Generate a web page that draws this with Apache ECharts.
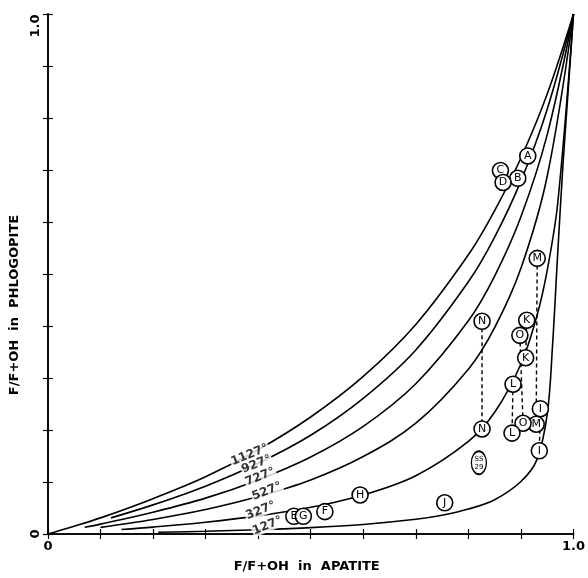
<!DOCTYPE html>
<html>
<head>
<meta charset="utf-8">
<script src="https://cdn.jsdelivr.net/npm/echarts@6/dist/echarts.min.js"></script>
<style>
html,body{margin:0;padding:0;background:#fff;}
#c{width:588px;height:578px;}
</style>
</head>
<body>
<div id="c"></div>
<script>
// ---- data ----
const curve1127 = [[0,0],[0.05,0.015],[0.1,0.031],[0.2,0.068],[0.3,0.110],[0.4,0.162],[0.5,0.225],[0.6,0.303],[0.7,0.403],[0.8,0.537],[0.85,0.622],[0.9,0.723],[0.95,0.846],[1,1]];
const curve927  = [[0.12,0.031],[0.2,0.056],[0.3,0.092],[0.4,0.136],[0.5,0.190],[0.6,0.261],[0.7,0.354],[0.8,0.485],[0.85,0.571],[0.9,0.679],[0.95,0.817],[1,1]];
const curve727  = [[0.07,0.013],[0.1,0.019],[0.2,0.042],[0.3,0.069],[0.4,0.104],[0.5,0.148],[0.6,0.207],[0.7,0.289],[0.8,0.410],[0.85,0.496],[0.9,0.610],[0.95,0.768],[1,1]];
const curve527  = [[0.1,0.0128],[0.2,0.028],[0.3,0.047],[0.4,0.072],[0.5,0.104],[0.6,0.149],[0.7,0.213],[0.8,0.317],[0.85,0.397],[0.9,0.511],[0.95,0.688],[1,1]];
const curve327  = [[0.14,0.0087],[0.2,0.0133],[0.3,0.0226],[0.4,0.0348],[0.5,0.0513],[0.6,0.075],[0.7,0.112],[0.8,0.178],[0.85,0.234],[0.9,0.327],[0.93,0.418],[0.95,0.507],[0.97,0.636],[1,1]];
const curve127  = [[0.21,0.0033],[0.3,0.0053],[0.4,0.0083],[0.5,0.0123],[0.6,0.0184],[0.7,0.0283],[0.75,0.036],[0.8,0.048],[0.85,0.066],[0.9,0.101],[0.93,0.142],[0.95,0.23],[0.96,0.36],[0.97,0.54],[0.98,0.71],[0.99,0.855],[1,1]];

const curveNames = ['1127°','927°','727°','527°','327°','127°'];
const curveLabelPos = [[0.384,0.152],[0.397,0.134],[0.404,0.110],[0.417,0.082],[0.405,0.045],[0.418,0.016]];

const sampleNames = ['A','B','C','D','M','N','K','O','K','L','I','M','O','L','N','I','H','J','F','E','G'];
const sampleX = [0.913,0.894,0.861,0.866,0.931,0.826,0.911,0.898,0.909,0.885,0.937,0.929,0.904,0.883,0.826,0.935,0.594,0.755,0.527,0.468,0.486];
const sampleY = [0.727,0.684,0.699,0.676,0.530,0.409,0.411,0.382,0.339,0.288,0.241,0.211,0.213,0.194,0.202,0.160,0.075,0.060,0.043,0.034,0.034];
const ssPoint = [0.820,0.137];
const ssLabel = 'SS\n29';

// dashed tie-lines: pairs of indices into the sample arrays
const tiePairs = [[5,14],[9,13],[6,8],[7,12],[4,11],[10,15]];

const xTickText = {0:'0', 1:'1.0'};
const yTickText = {0:'0', 1:'1.0'};

// ---- chart ----
const chart = echarts.init(document.getElementById('c'), null, {renderer:'canvas'});
const FONT = 'DejaVu Sans';
const curves = [curve1127, curve927, curve727, curve527, curve327, curve127];

const series = [];
curves.forEach((c,i)=>{
  series.push({type:'line', data:c, smooth:0.35, showSymbol:false, symbol:'none',
    lineStyle:{color:'#000', width:1.6}, z:2, silent:true});
});
tiePairs.forEach(p=>{
  series.push({type:'line', data:[[sampleX[p[0]],sampleY[p[0]]],[sampleX[p[1]],sampleY[p[1]]]],
    showSymbol:false, symbol:'none', lineStyle:{color:'#000', width:1.4, type:[4,3]}, z:3, silent:true});
});
series.push({type:'scatter', data:curveNames.map((n,i)=>({value:curveLabelPos[i], name:n})),
  symbolSize:0, z:6, silent:true,
  label:{show:true, position:'inside', formatter:p=>p.name, rotate:22, color:'#000',
    fontFamily:FONT, fontSize:12, fontWeight:'bold', backgroundColor:'#fff', padding:[0,1]}});
series.push({type:'scatter', data:sampleNames.map((n,i)=>({value:[sampleX[i],sampleY[i]], name:n})),
  symbol:'circle', symbolSize:16, z:8,
  itemStyle:{color:'#fff', borderColor:'#000', borderWidth:1.6, opacity:1},
  label:{show:true, position:'inside', formatter:p=>p.name, color:'#000', fontFamily:FONT, fontSize:11}});
series.push({type:'scatter', data:[{value:ssPoint, name:ssLabel}],
  symbol:'circle', symbolSize:[15,23], z:8,
  itemStyle:{color:'#fff', borderColor:'#000', borderWidth:1.6, opacity:1},
  label:{show:true, position:'inside', formatter:p=>p.name, color:'#000', fontFamily:FONT, fontSize:7, lineHeight:8}});

const tickCommon = {show:true, inside:true, length:5, lineStyle:{color:'#000', width:1.2}};
const lineCommon = {show:true, lineStyle:{color:'#000', width:1.6}};
const labelFont = {color:'#000', fontFamily:FONT, fontWeight:'bold', fontSize:13};

chart.setOption({
  animation:false,
  backgroundColor:'#fff',
  grid:{left:38, right:11, top:14, bottom:33},
  xAxis:[
    {type:'value', min:0, max:1, interval:0.1, position:'bottom',
     axisLine:lineCommon, axisTick:tickCommon, splitLine:{show:false},
     axisLabel:Object.assign({show:true, margin:6,
       formatter:v=> (Math.abs(v)<1e-9? xTickText[0] : (Math.abs(v-1)<1e-9? xTickText[1] : ''))}, labelFont),
     name:'F/F+OH  in  APATITE', nameLocation:'middle', nameGap:26,
     nameTextStyle:Object.assign({padding:[0,8,0,0]}, labelFont)},
    {type:'value', min:0, max:1, interval:0.1, position:'top',
     axisLine:lineCommon, axisTick:tickCommon, splitLine:{show:false}, axisLabel:{show:false}}
  ],
  yAxis:[
    {type:'value', min:0, max:1, interval:0.1, position:'left',
     axisLine:lineCommon, axisTick:tickCommon, splitLine:{show:false},
     axisLabel:Object.assign({show:true, rotate:90, margin:6,
       formatter:v=> (Math.abs(v)<1e-9? '{z|'+yTickText[0]+'}' : (Math.abs(v-1)<1e-9? '{t|'+yTickText[1]+'}' : '')),
       rich:{z:Object.assign({}, labelFont), t:Object.assign({padding:[0,24,0,0]}, labelFont)}}, labelFont),
     name:'F/F+OH  in  PHLOGOPITE', nameLocation:'middle', nameGap:20, nameRotate:90,
     nameTextStyle:Object.assign({padding:[0,62,0,0]}, labelFont)},
    {type:'value', min:0, max:1, interval:0.1, position:'right',
     axisLine:lineCommon, axisTick:tickCommon, splitLine:{show:false}, axisLabel:{show:false}}
  ],
  series: series
});
</script>
</body>
</html>
